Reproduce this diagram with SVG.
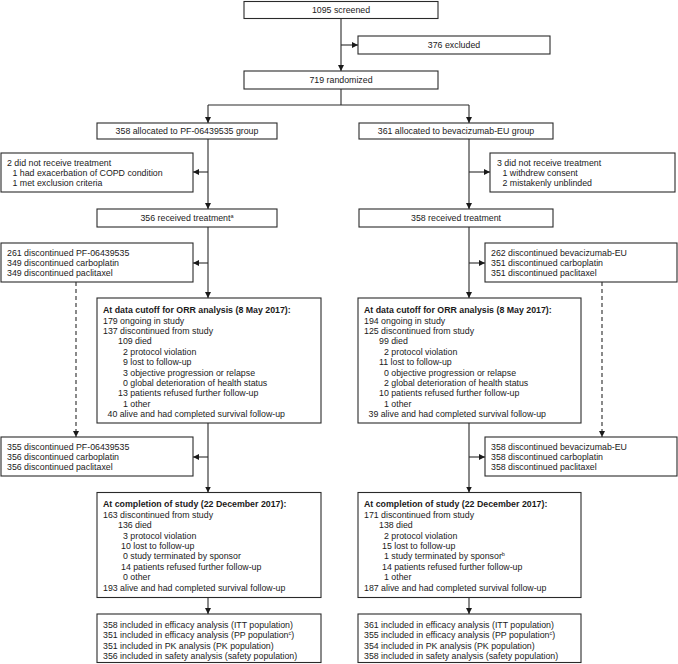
<svg xmlns="http://www.w3.org/2000/svg" width="678" height="664" viewBox="0 0 678 664">
<style>
  .box { fill: #ffffff; stroke: #2a2a2a; stroke-width: 1.1; }
  text { font-family: "Liberation Sans", Arial, sans-serif; font-size: 8.8px; fill: #1a1a1a; }
  .c { text-anchor: middle; }
  .b { font-weight: bold; }
  .sup { font-size: 5.5px; }
  .ln { fill: none; stroke: #2a2a2a; stroke-width: 1.1; }
  .dash { stroke-dasharray: 4 3; }
</style>
<defs>
  <marker id="ah" viewBox="0 0 6 6" refX="6" refY="3" markerWidth="6" markerHeight="6" markerUnits="userSpaceOnUse" orient="auto">
    <path d="M0,0 L6,3 L0,6 z" fill="#1a1a1a"/>
  </marker>
</defs>
<rect width="678" height="664" fill="#ffffff"/>

<g id="connectors">
  <path class="ln" d="M341,18.5 V71" marker-end="url(#ah)"/>
  <path class="ln" d="M341,45 H358" marker-end="url(#ah)"/>
  <path class="ln" d="M341,89 V105 M208,105 H469"/>
  <path class="ln" d="M208,105 V123" marker-end="url(#ah)"/>
  <path class="ln" d="M469,105 V123" marker-end="url(#ah)"/>
  <path class="ln" d="M208,139 V209" marker-end="url(#ah)"/>
  <path class="ln" d="M208,172 H193" marker-end="url(#ah)"/>
  <path class="ln" d="M208,227 V298" marker-end="url(#ah)"/>
  <path class="ln" d="M208,263 H193" marker-end="url(#ah)"/>
  <path class="ln" d="M208,423 V492.5" marker-end="url(#ah)"/>
  <path class="ln" d="M208,457 H193" marker-end="url(#ah)"/>
  <path class="ln" d="M208,597.5 V614" marker-end="url(#ah)"/>
  <path class="ln" d="M469,139 V209" marker-end="url(#ah)"/>
  <path class="ln" d="M469,172 H490" marker-end="url(#ah)"/>
  <path class="ln" d="M469,227 V298" marker-end="url(#ah)"/>
  <path class="ln" d="M469,263 H485" marker-end="url(#ah)"/>
  <path class="ln" d="M469,423 V492.5" marker-end="url(#ah)"/>
  <path class="ln" d="M469,457 H485" marker-end="url(#ah)"/>
  <path class="ln" d="M469,597.5 V614" marker-end="url(#ah)"/>
  <path class="ln dash" d="M76,282 V437" marker-end="url(#ah)"/>
  <path class="ln dash" d="M602,282 V437" marker-end="url(#ah)"/>
</g>

<g id="screened">
  <rect class="box" x="244" y="1.5" width="194" height="17"/>
  <text class="c" x="341" y="13.2">1095 screened</text>
</g>
<g id="excluded">
  <rect class="box" x="358" y="36" width="192" height="18"/>
  <text class="c" x="454" y="48.2">376 excluded</text>
</g>
<g id="randomized">
  <rect class="box" x="244" y="71" width="194" height="18"/>
  <text class="c" x="341" y="83.2">719 randomized</text>
</g>

<g id="allocL">
  <rect class="box" x="97" y="123" width="180" height="16"/>
  <text class="c" x="187" y="134.2">358 allocated to PF-06439535 group</text>
</g>
<g id="allocR">
  <rect class="box" x="359" y="123" width="194" height="16"/>
  <text class="c" x="456" y="134.2">361 allocated to bevacizumab-EU group</text>
</g>

<g id="notxL">
  <rect class="box" x="1" y="153" width="192" height="39"/>
  <text x="7" y="165.5">2 did not receive treatment</text>
  <text x="12.5" y="175.5">1 had exacerbation of COPD condition</text>
  <text x="12.5" y="185.5">1 met exclusion criteria</text>
</g>
<g id="notxR">
  <rect class="box" x="490" y="153" width="185" height="39"/>
  <text x="497" y="165.5">3 did not receive treatment</text>
  <text x="502.5" y="175.5">1 withdrew consent</text>
  <text x="502.5" y="185.5">2 mistakenly unblinded</text>
</g>

<g id="recvL">
  <rect class="box" x="97" y="209" width="180" height="18"/>
  <text class="c" x="187" y="221.2">356 received treatment<tspan class="sup" dy="-3.5">a</tspan></text>
</g>
<g id="recvR">
  <rect class="box" x="359" y="209" width="194" height="18"/>
  <text class="c" x="456" y="221.2">358 received treatment</text>
</g>

<g id="disc1L">
  <rect class="box" x="1" y="243" width="192" height="39"/>
  <text x="7" y="256.2">261 discontinued PF-06439535</text>
  <text x="7" y="266.2">349 discontinued carboplatin</text>
  <text x="7" y="276.2">349 discontinued paclitaxel</text>
</g>
<g id="disc1R">
  <rect class="box" x="485" y="243" width="192" height="39"/>
  <text x="491" y="256.2">262 discontinued bevacizumab-EU</text>
  <text x="491" y="266.2">351 discontinued carboplatin</text>
  <text x="491" y="276.2">351 discontinued paclitaxel</text>
</g>

<g id="cutoffL">
  <rect class="box" x="97" y="298" width="224" height="125"/>
  <text class="b" x="103" y="313.2">At data cutoff for ORR analysis (8 May 2017):</text>
  <text x="103" y="323.6">179 ongoing in study</text>
  <text x="103" y="334">137 discontinued from study</text>
  <text x="118" y="344.4">109 died</text>
  <text x="123" y="354.8">2 protocol violation</text>
  <text x="123" y="365.2">9 lost to follow-up</text>
  <text x="123" y="375.6">3 objective progression or relapse</text>
  <text x="123" y="386">0 global deterioration of health status</text>
  <text x="118" y="396.4">13 patients refused further follow-up</text>
  <text x="123" y="406.8">1 other</text>
  <text x="107.5" y="417.2">40 alive and had completed survival follow-up</text>
</g>
<g id="cutoffR">
  <rect class="box" x="358" y="298" width="223" height="125"/>
  <text class="b" x="364" y="313.2">At data cutoff for ORR analysis (8 May 2017):</text>
  <text x="364" y="323.6">194 ongoing in study</text>
  <text x="364" y="334">125 discontinued from study</text>
  <text x="379" y="344.4">99 died</text>
  <text x="384" y="354.8">2 protocol violation</text>
  <text x="379" y="365.2">11 lost to follow-up</text>
  <text x="384" y="375.6">0 objective progression or relapse</text>
  <text x="384" y="386">2 global deterioration of health status</text>
  <text x="379" y="396.4">10 patients refused further follow-up</text>
  <text x="384" y="406.8">1 other</text>
  <text x="368.5" y="417.2">39 alive and had completed survival follow-up</text>
</g>

<g id="disc2L">
  <rect class="box" x="1" y="437" width="192" height="39"/>
  <text x="7" y="449.7">355 discontinued PF-06439535</text>
  <text x="7" y="459.9">356 discontinued carboplatin</text>
  <text x="7" y="470.2">356 discontinued paclitaxel</text>
</g>
<g id="disc2R">
  <rect class="box" x="485" y="437" width="192" height="39"/>
  <text x="491" y="449.7">358 discontinued bevacizumab-EU</text>
  <text x="491" y="459.9">358 discontinued carboplatin</text>
  <text x="491" y="470.2">358 discontinued paclitaxel</text>
</g>

<g id="completeL">
  <rect class="box" x="97" y="492.5" width="224" height="105"/>
  <text class="b" x="103" y="507.2">At completion of study (22 December 2017):</text>
  <text x="103" y="517.6">163 discontinued from study</text>
  <text x="118" y="528.1">136 died</text>
  <text x="123" y="538.5">3 protocol violation</text>
  <text x="121" y="549">10 lost to follow-up</text>
  <text x="123" y="559.4">0 study terminated by sponsor</text>
  <text x="121" y="569.9">14 patients refused further follow-up</text>
  <text x="123" y="580.3">0 other</text>
  <text x="103" y="590.8">193 alive and had completed survival follow-up</text>
</g>
<g id="completeR">
  <rect class="box" x="358" y="492.5" width="223" height="105"/>
  <text class="b" x="364" y="507.2">At completion of study (22 December 2017):</text>
  <text x="364" y="517.6">171 discontinued from study</text>
  <text x="379" y="528.1">138 died</text>
  <text x="384" y="538.5">2 protocol violation</text>
  <text x="382" y="549">15 lost to follow-up</text>
  <text x="384" y="559.4">1 study terminated by sponsor<tspan class="sup" dy="-3.5">b</tspan></text>
  <text x="382" y="569.9">14 patients refused further follow-up</text>
  <text x="384" y="580.3">1 other</text>
  <text x="364" y="590.8">187 alive and had completed survival follow-up</text>
</g>

<g id="finalL">
  <rect class="box" x="97" y="614" width="224" height="48.5"/>
  <text x="103" y="627.7">358 included in efficacy analysis (ITT population)</text>
  <text x="103" y="638.2">351 included in efficacy analysis (PP population<tspan class="sup" dy="-3.5">c</tspan><tspan dy="3.5">)</tspan></text>
  <text x="103" y="648.7">351 included in PK analysis (PK population)</text>
  <text x="103" y="659.2">356 included in safety analysis (safety population)</text>
</g>
<g id="finalR">
  <rect class="box" x="358" y="614" width="223" height="48.5"/>
  <text x="364" y="627.7">361 included in efficacy analysis (ITT population)</text>
  <text x="364" y="638.2">355 included in efficacy analysis (PP population<tspan class="sup" dy="-3.5">c</tspan><tspan dy="3.5">)</tspan></text>
  <text x="364" y="648.7">354 included in PK analysis (PK population)</text>
  <text x="364" y="659.2">358 included in safety analysis (safety population)</text>
</g>
</svg>
